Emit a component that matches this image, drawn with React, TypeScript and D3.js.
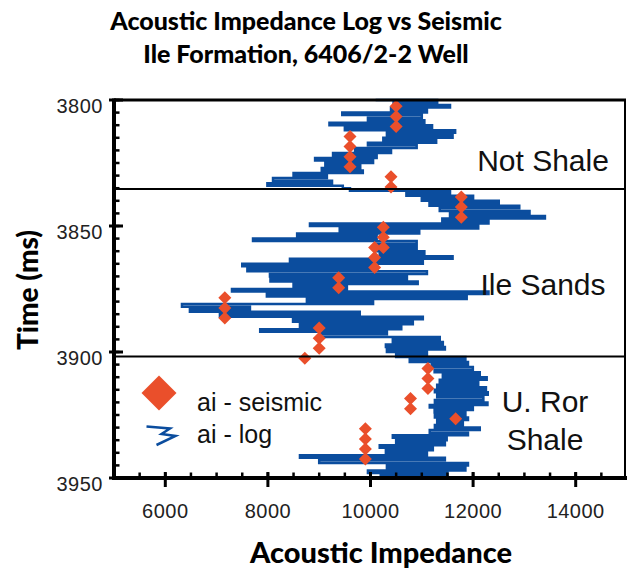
import React from "react";
import * as d3 from "d3";

const W = 628;
const H = 569;

const titleLines = ["Acoustic Impedance Log vs Seismic", "Ile Formation, 6406/2-2 Well"];
const xLabel = "Acoustic Impedance";
const yLabel = "Time (ms)";
const xTicks = [6000, 8000, 10000, 12000, 14000];
const yTicks = [3800, 3850, 3900, 3950];
const zoneTops = [3835.3, 3901.8];
const zoneNames = [["Not Shale"], ["Ile Sands"], ["U. Ror", "Shale"]];
const legendNames = ["ai - seismic", "ai - log"];

// acoustic impedance log, one sample per ms starting at 3800 ms
const logStart = 3800;
const logStep = 1;
const logAI = [
  10100, 11300, 10450, 11550, 10400, 11100, 9450, 11000, 9950, 11050,
  9200, 11200, 9500, 11650, 10320, 11600, 10250, 11280, 9950, 10900,
  9700, 10400, 9270, 10120, 8920, 10050, 9120, 9800, 9050, 9850,
  8500, 9150, 8100, 9250, 7990, 9460, 9600, 11550, 10700, 12000,
  11000, 12500, 11150, 12900, 11350, 13100, 11550, 13400, 11400, 12300,
  8820, 12100, 9400, 10950, 8570, 10120, 7710, 10900, 10120, 10900,
  10100, 11050, 10180, 11600, 8430, 11020, 7500, 10050, 7600, 11100,
  8040, 10710, 8050, 10920, 8500, 9540, 7300, 12300, 7980, 11875,
  8760, 10050, 6325, 7650, 6480, 9790, 7065, 11020, 8490, 10825,
  8625, 10600, 7850, 10320, 9010, 11350, 10435, 11410, 10300, 11450,
  10320, 11100, 10500, 11850, 10765, 11900, 11195, 11995, 11250, 12130,
  11410, 12265, 11350, 12100, 11300, 12250, 11255, 12285, 11300, 12200,
  11255, 12280, 11155, 11995, 11250, 11850, 11255, 11900, 11300, 11800,
  11255, 12130, 11155, 11900, 10435, 11485, 10500, 11450, 10180, 11215,
  10300, 11100, 8625, 11450, 9000, 11900, 10320, 11850, 9950, 11500,
  10200,
];

// seismic-derived impedance, 4 ms samples
const seisTime = [
  3802.5, 3806.5, 3810.5, 3814.5, 3818.5, 3822.5, 3826.5, 3830.5, 3834.5,
  3838.5, 3842.5, 3846.5, 3850.5, 3854.5, 3858.5, 3858.5, 3862.5, 3866.5,
  3870.5, 3874.5, 3878.5, 3882.5, 3886.5, 3890.5, 3894.5, 3898.5, 3902.5,
  3906.5, 3910.5, 3914.5, 3918.5, 3922.5, 3926.5, 3930.5, 3934.5, 3938.5,
  3942.5,
];
const seisAI = [
  10500, 10500, 10500, 9600, 9600, 9600, 9600, 10400, 10400,
  11770, 11770, 11770, 10250, 10250, 10250, 10080, 10080, 10080,
  9380, 9380, 7160, 7160, 7160, 9000, 9000, 9000, 8720,
  11120, 11120, 11120, 10780, 10780, 11660, 9900, 9900, 9900,
  9900,
];

const BLUE = "#0b4d9e";
const ORANGE = "#ea4f2b";
const FONT = "'Liberation Sans', Arial, sans-serif";
const TFONT = "Lato, 'Liberation Sans', sans-serif";

export default function App() {
  const left = 114;
  const right = 625;
  const top = 100;
  const bottom = 478;

  const x = d3.scaleLinear().domain([5000, 15000]).range([114, 627]);
  const y = d3.scaleLinear().domain([3800, 3950]).range([top, bottom]);

  const logPts: [number, number][] = logAI.map((v, i) => [v, logStart + i * logStep]);
  const line = d3
    .line<[number, number]>()
    .x((d) => x(d[0]))
    .y((d) => y(d[1]))
    .curve(d3.curveStepAfter);

  const yMinor = d3.range(3800, 3951, 5);
  const xMinor = d3.range(5500, 15000, 500);

  const labelX = 543;

  const dia = (cx: number, cy: number, r: number) =>
    `M${cx},${cy - r}L${cx + r},${cy}L${cx},${cy + r}L${cx - r},${cy}Z`;

  return (
    <svg
      width={W}
      height={H}
      style={{ position: "absolute", left: 0, top: 0, background: "#fff" }}
    >
      {/* title */}
      {titleLines.map((t, i) => (
        <text
          key={t}
          x={306}
          y={30 + i * 33}
          textAnchor="middle"
          fontFamily={TFONT}
          fontWeight={900}
          fontSize={25}
          fill="#000"
        >
          {t}
        </text>
      ))}

      {/* log curve */}
      <path
        d={line(logPts) || ""}
        fill="none"
        stroke={BLUE}
        strokeWidth={2.5}
        strokeLinejoin="miter"
      />

      {/* seismic points */}
      {seisAI.map((v, i) => (
        <path key={i} d={dia(x(v), y(seisTime[i]), 6.5)} fill={ORANGE} />
      ))}

      {/* zone boundaries */}
      {zoneTops.map((t) => (
        <line key={t} x1={left} x2={right} y1={y(t)} y2={y(t)} stroke="#000" strokeWidth={2} />
      ))}

      {/* frame */}
      <line x1={left} x2={right + 1} y1={top} y2={top} stroke="#000" strokeWidth={3} />
      <line x1={right} x2={right} y1={top} y2={bottom} stroke="#000" strokeWidth={2} />

      {/* y axis */}
      <line x1={left} x2={left} y1={top - 1.5} y2={bottom + 2} stroke="#000" strokeWidth={4} />
      {yMinor.map((t) => (
        <line key={t} x1={left} x2={left + 5.5} y1={y(t)} y2={y(t)} stroke="#000" strokeWidth={2.5} />
      ))}
      {yTicks.map((t) => (
        <g key={t}>
          <line x1={left - 5} x2={left + 9} y1={y(t)} y2={y(t)} stroke="#000" strokeWidth={3} />
          <text
            x={103}
            y={y(t) + 13}
            textAnchor="end"
            fontFamily={FONT}
            fontSize={20}
            letterSpacing={0.5}
            fill="#222"
          >
            {t}
          </text>
        </g>
      ))}

      {/* x axis */}
      <line x1={left - 2} x2={right + 2} y1={bottom} y2={bottom} stroke="#000" strokeWidth={4} />
      {xMinor.map((v) => (
        <line key={v} x1={x(v)} x2={x(v)} y1={bottom} y2={bottom - 5.5} stroke="#000" strokeWidth={2.5} />
      ))}
      {xTicks.map((v) => (
        <g key={v}>
          <line x1={x(v)} x2={x(v)} y1={bottom - 6} y2={bottom + 9} stroke="#000" strokeWidth={3} />
          <text
            x={x(v)}
            y={518}
            textAnchor="middle"
            fontFamily={FONT}
            fontSize={20}
            letterSpacing={0.5}
            fill="#222"
          >
            {v}
          </text>
        </g>
      ))}

      {/* axis titles */}
      <text
        x={381}
        y={563}
        textAnchor="middle"
        fontFamily={TFONT}
        fontWeight={900}
        fontSize={29}
        fill="#000"
      >
        {xLabel}
      </text>
      <text
        transform={`translate(38,290) rotate(-90)`}
        textAnchor="middle"
        fontFamily={TFONT}
        fontWeight={900}
        fontSize={28}
        fill="#000"
      >
        {yLabel}
      </text>

      {/* zone labels */}
      <text x={labelX} y={171} textAnchor="middle" fontFamily={FONT} fontSize={30} fill="#111">
        {zoneNames[0][0]}
      </text>
      <text x={labelX} y={295} textAnchor="middle" fontFamily={FONT} fontSize={30} fill="#111">
        {zoneNames[1][0]}
      </text>
      <text x={545} y={412} textAnchor="middle" fontFamily={FONT} fontSize={30} fill="#111">
        {zoneNames[2][0]}
      </text>
      <text x={545} y={450} textAnchor="middle" fontFamily={FONT} fontSize={30} fill="#111">
        {zoneNames[2][1]}
      </text>

      {/* legend */}
      <path d={dia(159, 393, 17.5)} fill={ORANGE} />
      <path
        d="M146.5,426.5L170,428.5L161.5,434L175.5,436L156.5,445"
        fill="none"
        stroke={BLUE}
        strokeWidth={2.5}
      />
      <text x={197} y={411} fontFamily={FONT} fontSize={25} fill="#111">
        {legendNames[0]}
      </text>
      <text x={197} y={443} fontFamily={FONT} fontSize={25} fill="#111">
        {legendNames[1]}
      </text>
    </svg>
  );
}
